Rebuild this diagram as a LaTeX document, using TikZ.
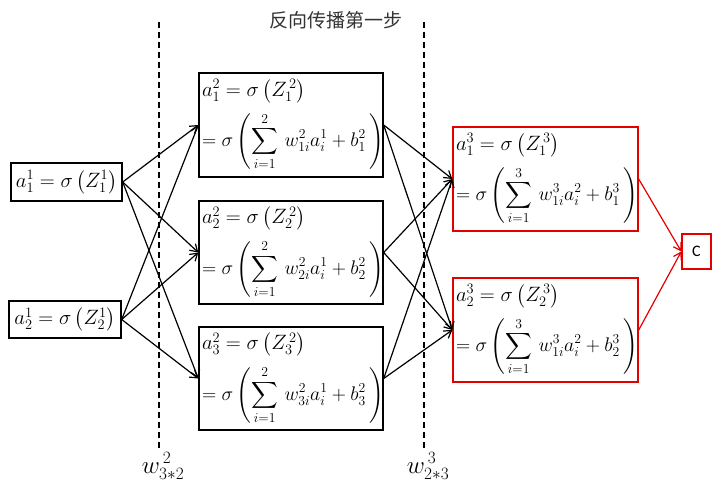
\documentclass[tikz,border=0pt]{standalone}
\usepackage{fontspec}
\setmainfont{Liberation Serif}
\newfontfamily\cjk{Noto Sans CJK SC}
\newfontfamily\calib{Carlito}
\DeclareFontFamily{OMX}{cmex}{}
\DeclareFontShape{OMX}{cmex}{m}{n}{<->cmex10}{}
\usetikzlibrary{arrows.meta}
\newcommand{\lineb}[1]{\scalebox{0.95}{$\displaystyle #1$}}
\begin{document}
\begin{tikzpicture}[x=1pt,y=-1pt,
  mbox/.style={draw=black,line width=1.4pt,inner sep=3pt,align=left,font=\fontsize{19.5}{22}\selectfont},
  rbox/.style={mbox,draw=red!90!black},
  conn/.style={line width=1.2pt,-{Straight Barb[length=7pt,width=9pt]}},
  rconn/.style={conn,draw=red!90!black},
  sep/.style={line width=1.2pt,dash pattern=on 6pt off 4pt},
  lab/.style={font=\fontsize{24}{26}\selectfont}]
\useasboundingbox (0,0) rectangle (720,495);
% input layer
\node[mbox,minimum width=111pt,minimum height=38pt] (in1) at (66.5,182) {$a_1^1 = \sigma\left(Z_1^1\right)$};
\node[mbox,minimum width=112pt,minimum height=37pt] (in2) at (65,319.5) {$a_2^1 = \sigma\left(Z_2^1\right)$};
% hidden layer
\node[mbox,minimum width=184pt,minimum height=104pt,text width=178pt] (h1) at (291,125)
  {\mbox{$a_1^{2} = \sigma\left(Z_1^{\,2}\right)$}\\[9pt]
   \lineb{= \sigma\left(\sum_{i=1}^{2}\, w_{1i}^{2}a_i^{1} + b_1^{2}\,\right)}};
\node[mbox,minimum width=184pt,minimum height=103pt,text width=178pt] (h2) at (291,252.5)
  {\mbox{$a_2^{2} = \sigma\left(Z_2^{\,2}\right)$}\\[9pt]
   \lineb{= \sigma\left(\sum_{i=1}^{2}\, w_{2i}^{2}a_i^{1} + b_2^{2}\,\right)}};
\node[mbox,minimum width=184pt,minimum height=103pt,text width=178pt] (h3) at (291,378.5)
  {\mbox{$a_3^{2} = \sigma\left(Z_3^{\,2}\right)$}\\[9pt]
   \lineb{= \sigma\left(\sum_{i=1}^{2}\, w_{3i}^{2}a_i^{1} + b_3^{2}\,\right)}};
% output layer
\node[rbox,minimum width=185pt,minimum height=104pt,text width=179pt] (o1) at (545.5,179)
  {\mbox{$a_1^{3} = \sigma\left(Z_1^{\,3}\right)$}\\[9pt]
   \lineb{= \sigma\left(\sum_{i=1}^{3}\, w_{1i}^{3}a_i^{2} + b_1^{3}\,\right)}};
\node[rbox,minimum width=185pt,minimum height=104pt,text width=179pt] (o2) at (545.5,330)
  {\mbox{$a_2^{3} = \sigma\left(Z_2^{\,3}\right)$}\\[9pt]
   \lineb{= \sigma\left(\sum_{i=1}^{3}\, w_{1i}^{3}a_i^{2} + b_2^{3}\,\right)}};
\node[draw=red!90!black,line width=1.4pt,minimum width=29pt,minimum height=35pt,inner sep=0pt,font=\calib\fontsize{16}{18}\selectfont] (c) at (696.5,251.5) {C};
% title and separators
\node[font=\cjk\fontsize{19}{22}\selectfont,text=black!80] (title) at (336,20) {反向传播第一步};
\node[lab] (w1) at (163,466) {$w^{\,2}_{3*2}$};
\node[lab] (w2) at (428,466) {$w^{\,3}_{2*3}$};
\coordinate (d1) at (159,22);
\coordinate (d2) at (424,22);
\draw[sep] (d1) -- (d1 |- w1.north);
\draw[sep] (d2) -- (d2 |- w2.north);
% connections
\foreach \s in {in1,in2}
  \foreach \t in {h1,h2,h3}
    \draw[conn] (\s.east) -- (\t.west);
\foreach \s in {h1,h2,h3}
  \foreach \t in {o1,o2}
    \draw[conn] (\s.east) -- (\t.west);
\draw[rconn] (o1.east) -- (c.west);
\draw[rconn] (o2.east) -- (c.west);
\end{tikzpicture}
\end{document}
